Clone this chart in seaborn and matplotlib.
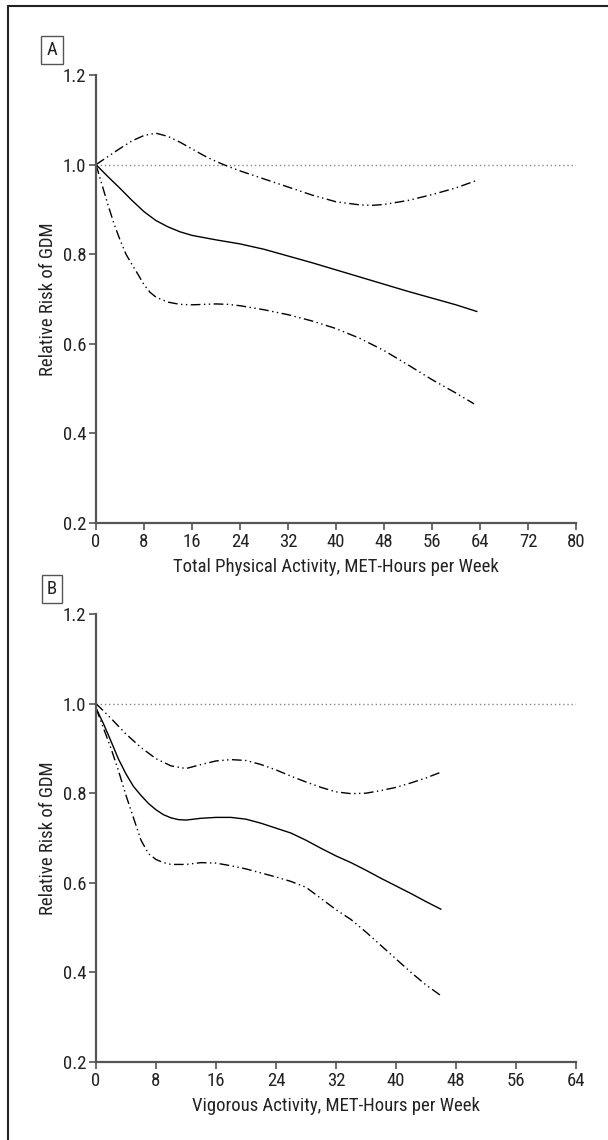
import numpy as np
import pandas as pd
import seaborn as sns
import matplotlib.pyplot as plt
from matplotlib.lines import Line2D

# Panel A: total physical activity (MET-hours/week) vs relative risk of GDM
a_x_est = [0, 2, 4, 6, 8, 10, 12, 14, 16, 18, 20, 24, 28, 32, 36, 40, 44, 48, 52, 56, 60, 63.5]
a_est = [1.0, 0.973, 0.947, 0.92, 0.895, 0.875, 0.861, 0.85, 0.842, 0.837, 0.832, 0.823,
         0.811, 0.796, 0.781, 0.765, 0.749, 0.733, 0.717, 0.702, 0.687, 0.672]
a_x_up = [0, 2, 4, 6, 8, 10, 12, 14, 16, 18, 20, 22, 24, 28, 32, 36, 40, 44, 46, 48, 52, 56, 60, 63.5]
a_up = [1.0, 1.018, 1.036, 1.053, 1.065, 1.07, 1.063, 1.05, 1.035, 1.02, 1.007, 0.996,
        0.986, 0.968, 0.95, 0.932, 0.917, 0.91, 0.909, 0.911, 0.92, 0.933, 0.948, 0.965]
a_x_lo = [0, 1, 2, 3, 4, 5, 6, 7, 8, 9, 10, 12, 14, 16, 18, 20, 22, 24, 28, 32, 36, 40,
          44, 48, 52, 56, 60, 63]
a_lo = [1.0, 0.955, 0.91, 0.868, 0.832, 0.80, 0.777, 0.755, 0.732, 0.715, 0.704, 0.693,
        0.688, 0.687, 0.688, 0.689, 0.688, 0.685, 0.676, 0.665, 0.651, 0.634, 0.612,
        0.585, 0.553, 0.52, 0.49, 0.466]

# Panel B: vigorous activity (MET-hours/week) vs relative risk of GDM
b_x_est = [0, 1, 2, 3, 4, 5, 6, 7, 8, 9, 10, 11, 12, 14, 16, 18, 20, 22, 24, 26, 28, 30,
           32, 34, 36, 38, 40, 42, 44, 46]
b_est = [0.99, 0.955, 0.916, 0.876, 0.843, 0.815, 0.795, 0.777, 0.763, 0.752, 0.745,
         0.741, 0.740, 0.744, 0.746, 0.746, 0.742, 0.733, 0.722, 0.711, 0.695, 0.677,
         0.66, 0.645, 0.628, 0.61, 0.593, 0.576, 0.558, 0.541]
b_x_up = [0, 2, 4, 6, 8, 10, 12, 14, 16, 18, 20, 22, 24, 26, 28, 30, 32, 34, 36, 38,
          40, 42, 44, 46]
b_up = [1.0, 0.967, 0.932, 0.902, 0.877, 0.861, 0.855, 0.864, 0.872, 0.875, 0.873,
        0.864, 0.852, 0.838, 0.825, 0.813, 0.803, 0.799, 0.80, 0.806, 0.813, 0.823,
        0.834, 0.847]
b_x_lo = [0, 1, 2, 3, 4, 5, 6, 7, 8, 9, 10, 12, 14, 16, 18, 20, 22, 24, 26, 28, 30, 32,
          34, 36, 38, 40, 42, 44, 46]
b_lo = [0.99, 0.945, 0.90, 0.85, 0.795, 0.745, 0.695, 0.665, 0.652, 0.645, 0.641, 0.641,
        0.645, 0.644, 0.638, 0.631, 0.622, 0.613, 0.603, 0.59, 0.565, 0.54, 0.518, 0.49,
        0.46, 0.43, 0.40, 0.372, 0.348]

y_ticks = [0.2, 0.4, 0.6, 0.8, 1.0, 1.2]
y_labels = ["0.2", "0.4", "0.6", "0.8", "1.0", "1.2"]

sns.set_style("ticks")
plt.rcParams["font.family"] = ["Roboto Condensed", "DejaVu Sans"]

fig = plt.figure(figsize=(6.08, 11.4), dpi=100)
axA = fig.add_axes([96 / 608, 1 - 523 / 1140, 480 / 608, 448 / 1140])
axB = fig.add_axes([96 / 608, 1 - 1062 / 1140, 480 / 608, 448 / 1140])

dashdotdot = (7, 2.5, 1, 2.5, 1, 2.5)
gray = "#555555"
txt = "#222222"
fs = 13.5


def draw(ax, xe, ye, xu, yu, xl, yl, xmax, xlabel):
    ax.axhline(1.0, color="#888888", lw=1, ls=(0, (1, 2)))
    sns.lineplot(x=xe, y=ye, ax=ax, color="black", lw=1)
    for xs, ys in ((xu, yu), (xl, yl)):
        sns.lineplot(x=xs, y=ys, ax=ax, color="black", lw=1)
        ax.lines[-1].set_dashes(dashdotdot)
    ax.set_xlim(0, xmax)
    ax.set_ylim(0.2, 1.2)
    ax.set_xticks(np.arange(0, xmax + 1, 8))
    ax.set_yticks(y_ticks)
    ax.set_yticklabels(y_labels)
    sns.despine(ax=ax)
    for s in ("left", "bottom"):
        ax.spines[s].set_color(gray)
        ax.spines[s].set_linewidth(1.6)
    ax.tick_params(colors=txt, labelsize=fs, length=5, width=1.2, color=gray, pad=2)
    ax.set_xlabel(xlabel, fontsize=fs, color=txt, labelpad=5)
    ax.set_ylabel("Relative Risk of GDM", fontsize=fs, color=txt, labelpad=4)


draw(axA, a_x_est, a_est, a_x_up, a_up, a_x_lo, a_lo, 80,
     "Total Physical Activity, MET-Hours per Week")
draw(axB, b_x_est, b_est, b_x_up, b_up, b_x_lo, b_lo, 64,
     "Vigorous Activity, MET-Hours per Week")

# boxed panel letters
for letter, ypix in (("A", 50), ("B", 589)):
    fig.text(52 / 608, 1 - ypix / 1140, letter, ha="center", va="center",
             fontsize=fs, color=txt,
             bbox=dict(boxstyle="square,pad=0.28", fc="white", ec=gray, lw=1))

# outer frame (left and top edges visible)
fig.add_artist(Line2D([8 / 608, 8 / 608], [0, 1 - 6 / 1140], color=txt, lw=1.5))
fig.add_artist(Line2D([8 / 608, 1], [1 - 6 / 1140, 1 - 6 / 1140], color=txt, lw=1.5))

plt.savefig("out.png", dpi=100)
